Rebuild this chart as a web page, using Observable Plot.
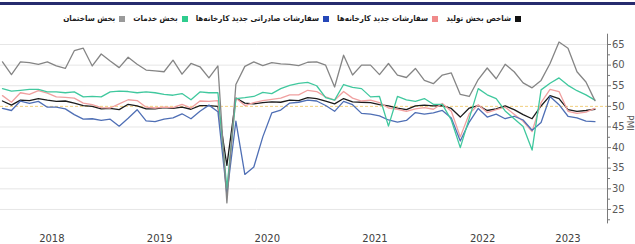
<!DOCTYPE html>
<html><head><meta charset="utf-8">
<script src="https://cdn.jsdelivr.net/npm/d3@7"></script>
<script src="https://cdn.jsdelivr.net/npm/@observablehq/plot@0.6"></script>
<style>
body{margin:0;background:#fff;}
#wrap{position:relative;width:635px;height:244px;overflow:hidden;font-family:"DejaVu Sans",sans-serif;}
#bar{position:absolute;left:0;top:2px;width:635px;height:3px;background:#262b6e;}
#legend{position:absolute;top:14px;right:114px;direction:rtl;display:flex;gap:8px;font-family:"DejaVu Sans Condensed","DejaVu Sans",sans-serif;font-stretch:condensed;font-size:8px;font-weight:bold;color:#1a1a1a;white-space:nowrap;}
#legend .it{display:flex;align-items:center;}
#legend .sw{width:6px;height:6px;margin-left:4px;display:inline-block;}
#pmi{position:absolute;left:622px;top:118px;font-size:9px;color:#595959;transform:rotate(90deg);transform-origin:center;}
#chart{position:absolute;left:0;top:0;}
</style></head>
<body>
<div id="wrap"><div id="chart"></div><div id="bar"></div><div id="legend"></div><div id="pmi">PMI</div></div>
<script>
const years = ["2018","2019","2020","2021","2022","2023"];
const monthsPerYear = [12,12,12,12,12,7];
const seriesNames = ["شاخص بخش تولید","سفارشات جدید کارخانه‌ها","سفارشات صادراتی جدید کارخانه‌ها","بخش خدمات","بخش ساختمان"];
const manufacturing = [51.3,50.3,51.5,51.4,51.9,51.5,51.2,51.3,50.8,50.2,50.0,49.4,
 49.5,49.2,50.5,50.1,49.4,49.4,49.7,49.5,49.8,49.3,50.2,50.2,
 50.0,35.7,52.0,50.8,50.6,50.9,51.1,51.0,51.5,51.4,52.1,51.9,
 51.3,50.6,51.9,51.1,51.0,50.9,50.4,50.1,49.6,49.2,50.1,50.3,
 50.1,50.2,49.5,47.4,49.6,50.2,49.0,49.4,50.1,49.2,48.0,47.0,
 50.1,52.6,51.9,49.2,48.8,49.0,49.3];
const newOrders = [52.6,51.0,53.3,52.9,53.8,53.2,52.3,52.2,52.0,50.8,50.4,49.7,
 49.6,50.6,51.6,51.4,49.8,49.6,49.8,49.7,50.5,49.6,51.3,51.2,
 51.4,29.3,52.0,50.2,50.9,51.4,51.7,52.0,52.8,52.8,53.9,53.6,
 52.3,51.5,53.6,52.0,51.3,51.5,50.9,49.6,49.3,48.8,49.4,49.7,
 49.3,50.7,48.8,42.6,48.2,50.4,48.5,49.2,49.8,48.1,46.4,43.9,
 50.9,54.1,53.6,48.8,48.3,48.6,49.5];
const exportOrders = [49.5,49.0,51.3,50.7,51.2,49.8,49.8,49.4,48.0,46.9,47.0,46.6,
 46.9,45.2,47.1,49.2,46.5,46.3,46.9,47.2,48.2,47.0,48.8,50.3,
 48.7,28.7,46.4,33.5,35.3,42.6,48.4,49.1,50.8,51.0,51.5,51.3,
 50.2,48.8,51.2,50.4,48.3,48.1,47.7,46.7,46.2,46.6,48.5,48.1,
 48.4,49.0,47.2,41.6,46.2,49.5,47.4,48.1,47.0,47.6,46.7,44.2,
 46.1,52.4,50.4,47.6,47.2,46.4,46.3];
const services = [54.3,53.7,53.9,54.1,54.1,53.5,53.5,53.3,53.5,52.3,52.4,52.3,
 53.5,53.7,53.6,53.3,53.5,53.3,52.9,52.7,53.1,51.6,53.5,53.3,
 53.3,30.1,51.9,52.1,52.4,53.4,53.1,54.3,55.1,55.6,55.8,55.0,
 52.1,51.5,55.3,54.6,54.3,52.3,52.4,45.2,52.4,51.6,51.2,51.9,
 50.5,50.5,46.7,40.0,47.1,54.3,52.8,51.9,48.9,47.0,45.1,39.4,
 54.0,55.6,56.9,55.1,53.8,52.8,51.5];
const construction = [60.8,57.7,60.8,60.6,60.2,60.8,59.8,59.2,63.5,64.1,59.8,62.7,
 61.0,59.4,61.9,60.2,58.8,58.6,58.4,61.2,57.8,60.4,59.6,56.9,
 59.8,26.6,55.3,59.7,60.8,59.9,60.6,60.3,60.2,59.9,60.7,60.8,
 60.0,54.7,62.4,57.6,60.0,60.0,57.7,60.4,57.6,57.0,59.2,56.3,
 55.5,57.6,58.1,52.9,52.4,56.5,59.3,56.7,60.2,58.4,55.7,54.5,
 56.3,60.4,65.6,64.1,58.4,55.9,51.4];
const yTicks = [25,30,35,40,45,50,55,60,65];

const lineColors = ["#1c1c1c","#f0a0a0","#4f6fb5","#40c89e","#858585"];
const swatchColors = ["#111","#f08a8a","#2547b8","#2fcc8e","#9a9a9a"];
const allSeries = [manufacturing,newOrders,exportOrders,services,construction];

const rows = [];
allSeries.forEach((vals,k)=>vals.forEach((v,i)=>rows.push({i,v,k})));

let start = 0; const yearPos = [];
monthsPerYear.forEach(n=>{yearPos.push(start+(n-1)/2); start+=n;});
const yearLabel = new Map(yearPos.map((p,j)=>[p,years[j]]));
const minor = d3.range(22.5,67.5,2.5).filter(d=>!yTicks.includes(d));

const xDom=[-0.22,67.4], yDom=[21.5,67.5];
const plot = Plot.plot({
  width:635,height:244,marginTop:33.7,marginBottom:20.6,marginLeft:0,marginRight:28,
  x:{domain:xDom,axis:null},
  y:{domain:yDom,axis:null},
  style:{fontFamily:"DejaVu Sans",fontSize:"10px",color:"#595959",background:"transparent",overflow:"visible"},
  marks:[
    Plot.ruleY(yTicks.filter(d=>d!==50),{stroke:"#e6e6e6",strokeWidth:1}),
    Plot.ruleY([50],{stroke:"#f1cf7e",strokeDasharray:"3,2",strokeWidth:1}),
    ...allSeries.map((vals,k)=>Plot.line(rows.filter(r=>r.k===k),{x:"i",y:"v",stroke:lineColors[k],strokeWidth:1.3})),
    Plot.ruleX([xDom[1]],{y1:yDom[0],y2:yDom[1],stroke:"#7a7a7a",strokeWidth:1}),
    Plot.axisY({anchor:"right",ticks:yTicks,tickSize:3,tickPadding:1.5,label:null,fill:"#595959",stroke:"#7a7a7a"}),
    Plot.axisY({anchor:"right",ticks:minor,tickSize:2,tickFormat:()=>"",label:null,stroke:"#7a7a7a"}),
    Plot.axisX({anchor:"bottom",ticks:yearPos,tickFormat:d=>yearLabel.get(d),tickSize:0,tickPadding:10.5,label:null,fill:"#404040"})
  ]
});
document.getElementById("chart").appendChild(plot);

const lg=document.getElementById("legend");
seriesNames.forEach((n,k)=>{
  const it=document.createElement("div");it.className="it";
  const sw=document.createElement("span");sw.className="sw";sw.style.background=swatchColors[k];
  const t=document.createElement("span");t.textContent=n;
  it.appendChild(sw);it.appendChild(t);lg.appendChild(it);
});
</script>
</body></html>
